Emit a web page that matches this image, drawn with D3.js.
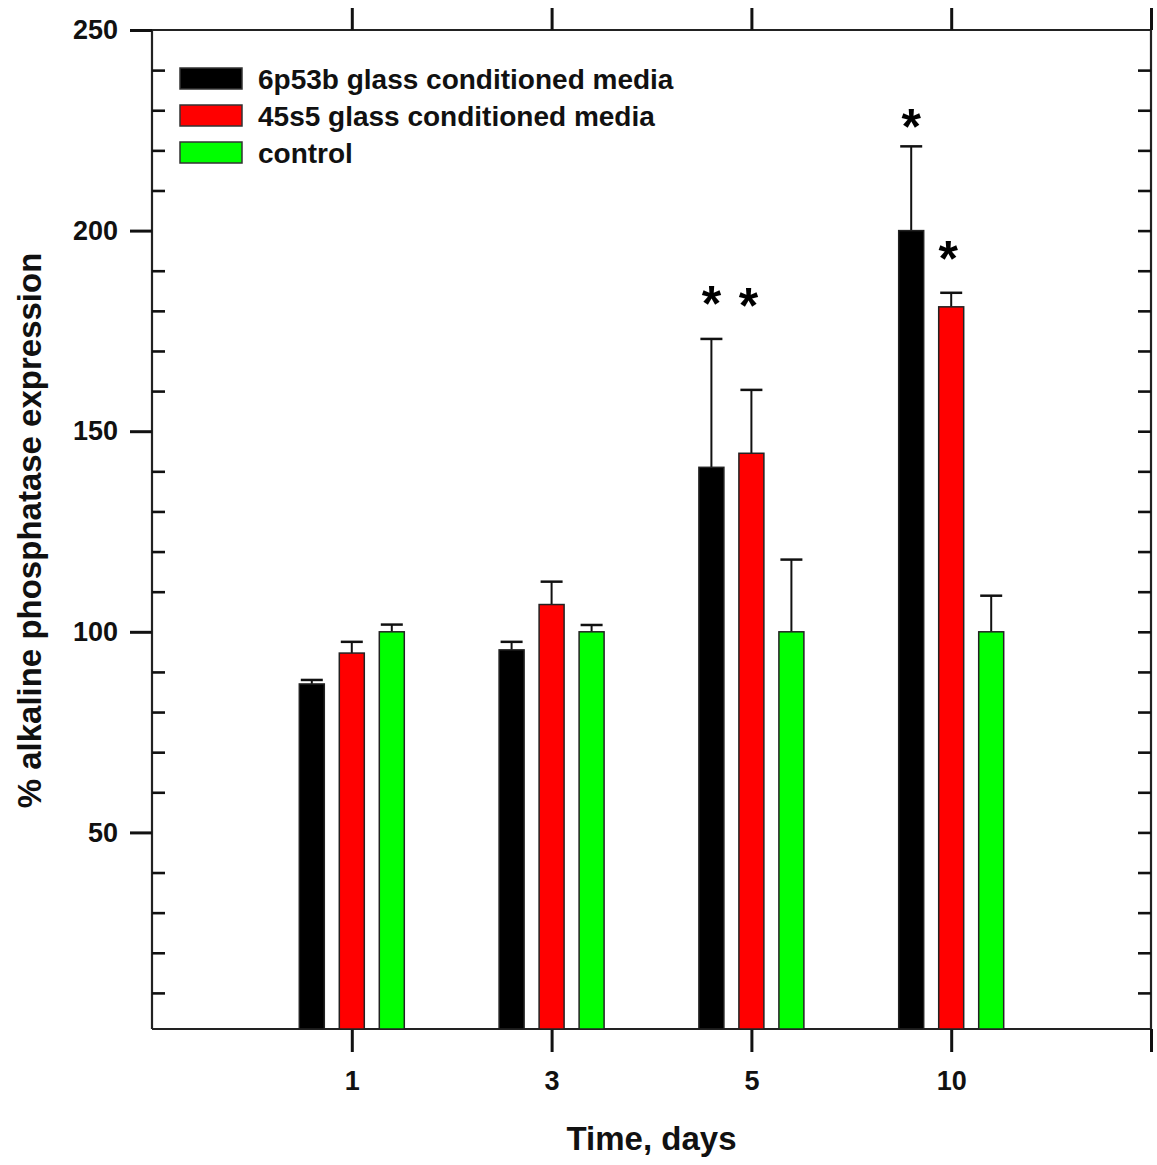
<!DOCTYPE html>
<html>
<head>
<meta charset="utf-8">
<script src="https://cdn.jsdelivr.net/npm/d3@7"></script>
<style>
  html, body { margin: 0; padding: 0; background: #fff; }
  svg { display: block; font-family: "Liberation Sans", Arial, sans-serif; }
</style>
</head>
<body>
<svg id="chart" width="1157" height="1165"></svg>
<script>
// ---- data ----
const days = ["1", "3", "5", "10"];
const seriesNames = ["6p53b glass conditioned media", "45s5 glass conditioned media", "control"];
const seriesColors = ["#000000", "#ff0000", "#00ff00"];
const glass6p53b = [87, 95.5, 141, 200];
const glass6p53bErr = [88, 97.5, 173, 221];
const glass45s5 = [94.7, 106.8, 144.5, 181];
const glass45s5Err = [97.5, 112.5, 160.3, 184.5];
const control = [100, 100, 100, 100];
const controlErr = [101.8, 101.7, 118, 109];
const yTicks = [50, 100, 150, 200, 250];
// significance marks: [day index, series index, level]
const stars = [[2, 0, 183.7], [2, 1, 183.2], [3, 0, 227.8], [3, 1, 195]];

const values = [glass6p53b, glass45s5, control];
const errs = [glass6p53bErr, glass45s5Err, controlErr];

// ---- layout ----
const L = 152, R = 1151, T = 30, B = 1029;
const svg = d3.select("#chart");

const x = d3.scaleLinear().domain([0, 5]).range([L, R]);
const y = d3.scaleLinear().domain([1, 250]).range([B, T]);
const barW = 25, offs = [-40, 0, 40];

// frame
const frame = svg.append("g").attr("stroke", "#222").attr("fill", "none");
frame.append("line").attr("x1", L).attr("x2", R).attr("y1", B).attr("y2", B).attr("stroke-width", 2.2);
frame.append("line").attr("x1", L).attr("x2", R).attr("y1", T).attr("y2", T).attr("stroke-width", 1.8);
frame.append("line").attr("x1", L).attr("x2", L).attr("y1", T).attr("y2", B).attr("stroke-width", 2.2);
frame.append("line").attr("x1", R).attr("x2", R).attr("y1", T).attr("y2", B).attr("stroke-width", 2.2);

// y axes via d3.axis
const minorVals = d3.range(10, 250, 10).filter(v => v % 50 !== 0);
const allMinor = d3.range(10, 250, 10);

const yLeftMajor = svg.append("g").attr("transform", `translate(${L},0)`)
  .call(d3.axisLeft(y).tickValues(yTicks).tickSize(22).tickPadding(12).tickFormat(d3.format("d")));
const yLeftMinor = svg.append("g").attr("transform", `translate(${L},0)`)
  .call(d3.axisRight(y).tickValues(minorVals).tickSize(13).tickFormat(""));
const yRightMinor = svg.append("g").attr("transform", `translate(${R},0)`)
  .call(d3.axisLeft(y).tickValues(allMinor).tickSize(13).tickFormat(""));

// x axes
const xPos = [1, 2, 3, 4, 5];
const xBottom = svg.append("g").attr("transform", `translate(0,${B})`)
  .call(d3.axisBottom(x).tickValues(xPos).tickSize(23).tickPadding(19)
    .tickFormat(d => d <= days.length ? days[d - 1] : ""));
const xTop = svg.append("g").attr("transform", `translate(0,${T})`)
  .call(d3.axisTop(x).tickValues(xPos).tickSize(22).tickFormat(""));

[yLeftMajor, yLeftMinor, yRightMinor, xBottom, xTop].forEach(g => {
  g.select(".domain").remove();
  g.selectAll(".tick line").attr("stroke", "#111").attr("stroke-width", 3);
  g.selectAll(".tick text").attr("fill", "#111").attr("font-weight", "bold")
    .attr("font-size", 27).attr("font-family", "'Liberation Sans', Arial, sans-serif");
});
yLeftMinor.selectAll(".tick line").attr("stroke-width", 2.6);
yRightMinor.selectAll(".tick line").attr("stroke-width", 2.6);

// bars
const barData = [];
values.forEach((arr, s) => arr.forEach((v, i) => barData.push({ s, i, v, e: errs[s][i] })));
const bx = d => x(d.i + 1) + offs[d.s];

const g = svg.append("g");
// error bars
g.selectAll("line.err").data(barData).join("line")
  .attr("x1", bx).attr("x2", bx).attr("y1", d => y(d.v)).attr("y2", d => y(d.e))
  .attr("stroke", "#111").attr("stroke-width", 2);
g.selectAll("line.cap").data(barData).join("line")
  .attr("x1", d => bx(d) - 11).attr("x2", d => bx(d) + 11)
  .attr("y1", d => y(d.e)).attr("y2", d => y(d.e))
  .attr("stroke", "#111").attr("stroke-width", 2.5);
g.selectAll("rect.bar").data(barData).join("rect")
  .attr("x", d => bx(d) - barW / 2).attr("width", barW)
  .attr("y", d => y(d.v)).attr("height", d => y(1) - y(d.v))
  .attr("fill", d => seriesColors[d.s]).attr("stroke", "#222").attr("stroke-width", 1.5);

// stars
svg.append("g").selectAll("text").data(stars).join("text")
  .attr("x", d => x(d[0] + 1) + offs[d[1]] - (d[1] === 1 ? 3 : 0))
  .attr("y", d => y(d[2]))
  .attr("dy", 25)
  .attr("text-anchor", "middle")
  .attr("font-size", 50).attr("font-weight", "bold").attr("fill", "#000")
  .text("*");

// legend
const leg = svg.append("g").selectAll("g").data(seriesNames).join("g")
  .attr("transform", (d, i) => `translate(180,${68 + i * 37})`);
leg.append("rect").attr("width", 62).attr("height", 21)
  .attr("fill", (d, i) => seriesColors[i]).attr("stroke", "#333").attr("stroke-width", 1.5);
leg.append("text").attr("x", 78).attr("y", 21)
  .attr("font-size", 28).attr("font-weight", "bold").attr("fill", "#111")
  .text(d => d);

// axis titles
svg.append("text").attr("x", (L + R) / 2).attr("y", 1150).attr("text-anchor", "middle")
  .attr("font-size", 33).attr("font-weight", "bold").attr("fill", "#111").text("Time, days");
svg.append("text").attr("transform", `translate(41,${(T + B) / 2 + 1}) rotate(-90)`)
  .attr("text-anchor", "middle")
  .attr("font-size", 33).attr("font-weight", "bold").attr("fill", "#111")
  .text("% alkaline phosphatase expression");
</script>
</body>
</html>
